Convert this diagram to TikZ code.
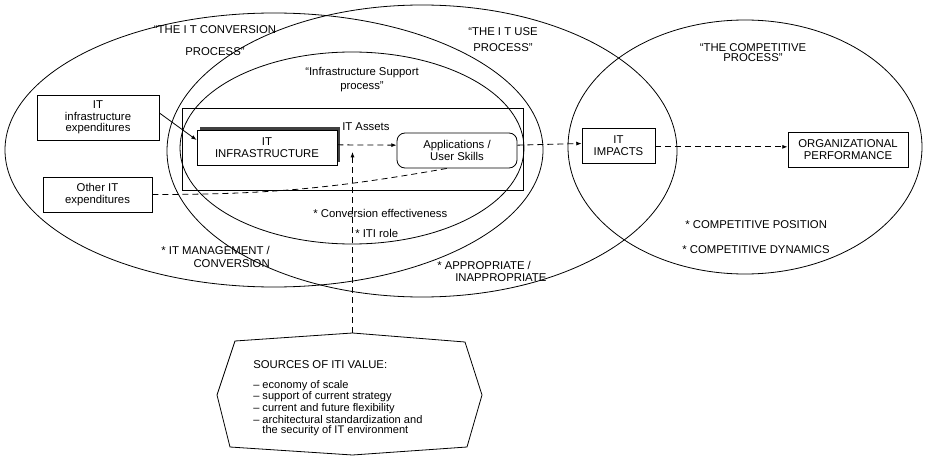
\documentclass[tikz,border=0pt]{standalone}
\usepackage{fontspec}
\setmainfont{Liberation Sans}
\usetikzlibrary{arrows.meta,shadows}
\tikzset{
  region/.style={
    draw=black,
    line width=0.6pt
  },
  box/.style={
    rectangle,
    draw=black,
    line width=0.6pt,
    fill=white,
    align=center,
    inner sep=1pt,
    font=\fontsize{8.5}{8.5}\selectfont
  },
  infrabox/.style={
    box,
    drop shadow={shadow xshift=2.6pt, shadow yshift=2pt, fill=black!75, opacity=1}
  },
  userbox/.style={
    box,
    rounded corners=6pt
  },
  frame/.style={
    rectangle,
    draw=black,
    line width=0.6pt
  },
  tag/.style={
    inner sep=0pt,
    font=\fontsize{8.5}{9}\selectfont
  },
  arrow/.style={
    -{Latex[length=4pt,width=3pt]},
    line width=0.6pt
  },
  dasharrow/.style={
    arrow,
    dash pattern=on 4.5pt off 3pt
  },
  dashline/.style={
    line width=0.6pt,
    dash pattern=on 4.5pt off 3pt
  }
}

\begin{document}
\begin{tikzpicture}[x=0.75pt, y=-0.75pt]
  \useasboundingbox (0,0) rectangle (925,467);

  \draw[region] (274,150) ellipse [x radius=201.75pt, y radius=102.75pt];
  \draw[region] (422,151) ellipse [x radius=191.25pt, y radius=109.5pt];
  \draw[region] (352,148) ellipse [x radius=129pt, y radius=72pt];
  \draw[region] (745,147) ellipse [x radius=132.75pt, y radius=95.25pt];

  \node[tag] (convtitle) at (215,30) {``THE I T CONVERSION};
  \node[tag] (convproc) at (215,52) {PROCESS''};
  \node[tag, align=center] (usetitle) at (503,40) {``THE I T USE\\[3pt]PROCESS''};
  \node[tag, align=center] (supporttitle) at (362,80) {``Infrastructure Support\\[1.5pt]process''};
  \node[tag, align=center] (comptitle) at (753,53) {``THE COMPETITIVE\\[-1.5pt]PROCESS''};

  \node[frame, minimum width=255.75pt, minimum height=61.5pt] (assets) at (352.5,149) {};
  \node[tag, anchor=west] (assetslabel) at (342,127) {IT Assets};

  \node[box, minimum width=91.5pt, minimum height=33.75pt] (infraexp) at (98,117.5) {IT\\infrastructure\\expenditures};
  \node[box, minimum width=81.75pt, minimum height=26.25pt] (otherexp) at (97.5,194.5) {Other IT\\expenditures};
  \node[infrabox, minimum width=105pt, minimum height=26.25pt] (itinfra) at (267,147.5) {IT\\INFRASTRUCTURE};
  \node[userbox, minimum width=90pt, minimum height=26.25pt] (apps) at (457,150.5) {Applications /\\User Skills};
  \node[box, minimum width=54.75pt, minimum height=26.25pt] (impacts) at (618.5,145.5) {IT\\IMPACTS};
  \node[box, minimum width=90pt, minimum height=26.25pt] (orgperf) at (848,149.5) {ORGANIZATIONAL\\PERFORMANCE};

  \node[tag, anchor=west] (conveff) at (313,213) {* Conversion effectiveness};
  \node[tag, anchor=west] (itirole) at (355,233) {* ITI role};
  \node[tag, align=right, anchor=east] (mgmt) at (270,256.5) {* IT MANAGEMENT /\\[0.75pt]CONVERSION};
  \node[tag, align=left, anchor=west] (approp) at (437,271) {* APPROPRIATE /\\\hspace*{13.5pt}INAPPROPRIATE};
  \node[tag, anchor=west] (comppos) at (685,225) {* COMPETITIVE POSITION};
  \node[tag, anchor=west] (compdyn) at (682,250) {* COMPETITIVE DYNAMICS};

  \draw[region] (235,341) -- (352.5,333) -- (465,342) -- (482,395) -- (467,447) -- (352.5,455) -- (230,447) -- (217,395) -- cycle;
  \coordinate (srctop) at (352.5,333);
  \coordinate (roletip) at (352.5,152);
  \node[tag, anchor=west, font=\fontsize{8.5}{9}\selectfont] (srctitle) at (253,365) {SOURCES OF ITI VALUE:};
  \node[anchor=north west, align=left, inner sep=0pt, font=\fontsize{8.3}{7.4}\selectfont] (srclist) at (253,380)
    {\textendash\ economy of scale\\
     \textendash\ support of current strategy\\
     \textendash\ current and future flexibility\\
     \textendash\ architectural standardization and\\
     \phantom{\textendash\ }the security of IT environment};

  \draw[arrow] ([yshift=3.4pt]infraexp.east) -- ([yshift=5.6pt]itinfra.west);
  \draw[dasharrow] ([yshift=2pt]itinfra.east) -- ([yshift=4pt]apps.west);
  \draw[dasharrow] ([yshift=4pt]apps.east) -- ([yshift=1.5pt]impacts.west);
  \draw[dasharrow] ([yshift=-1pt]impacts.east) -- ([yshift=2pt]orgperf.west);
  \draw[dashline] (otherexp.east) to[out=0, in=190] ([xshift=-7.5pt]apps.south);
  \draw[dasharrow] (srctop) -- (roletip);
\end{tikzpicture}
\end{document}
